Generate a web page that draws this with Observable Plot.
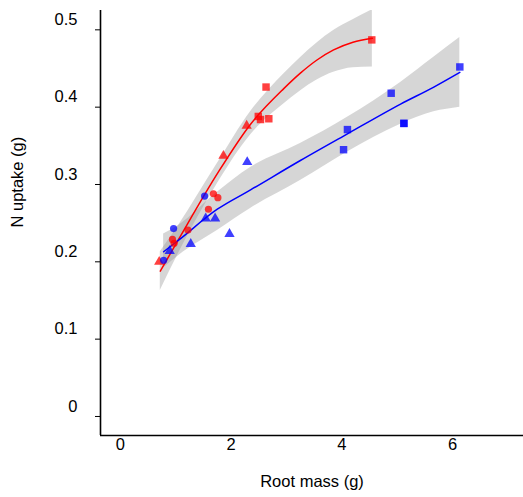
<!DOCTYPE html>
<html>
<head>
<meta charset="utf-8">
<script src="https://cdn.jsdelivr.net/npm/d3@7"></script>
<script src="https://cdn.jsdelivr.net/npm/@observablehq/plot@0.6"></script>
<style>
  html, body { margin: 0; padding: 0; background: white; }
</style>
</head>
<body>
<div id="chart"></div>
<script>
// ---- data ----
const xTicks = [0, 2, 4, 6];
const yTicks = [0, 0.1, 0.2, 0.3, 0.4, 0.5];
const xDomain = [-0.36, 7.28];
const yDomain = [-0.0246, 0.525];

// Group "red"
const redX     = [4.54, 2.63, 2.49, 2.53, 2.68, 2.28, 1.86, 0.70, 1.68, 1.76, 1.59, 1.22, 0.94, 0.97];
const redY     = [0.487, 0.426, 0.388, 0.384, 0.385, 0.376, 0.337, 0.200, 0.288, 0.283, 0.268, 0.241, 0.229, 0.224];
const redShape = ["square","square","square","square","square","triangle","triangle","triangle","circle","circle","circle","circle","circle","circle"];

// Group "blue"
const blueX     = [6.13, 4.89, 4.10, 4.03, 5.12, 5.12, 2.29, 1.54, 1.71, 1.97, 1.27, 0.89, 1.52, 0.96, 0.78];
const blueY     = [0.452, 0.418, 0.371, 0.345, 0.379, 0.379, 0.329, 0.256, 0.256, 0.236, 0.223, 0.214, 0.285, 0.243, 0.202];
const blueShape = ["square","square","square","square","square","square","triangle","triangle","triangle","triangle","triangle","triangle","circle","circle","circle"];

// Fitted curves and confidence bands
const redFitX  = [0.72, 1.05, 1.75, 2.35, 2.95, 3.25, 3.55, 3.85, 4.20, 4.55];
const redFit   = [0.188, 0.229, 0.314, 0.378, 0.424, 0.444, 0.461, 0.474, 0.484, 0.489];
const redLo    = [0.163, 0.211, 0.301, 0.364, 0.404, 0.421, 0.435, 0.445, 0.451, 0.452];
const redHi    = [0.213, 0.247, 0.327, 0.394, 0.443, 0.464, 0.483, 0.499, 0.513, 0.526];

const blueFitX = [0.78, 1.05, 1.75, 2.35, 3.25, 4.10, 5.06, 5.66, 6.13];
const blueFit  = [0.213, 0.228, 0.268, 0.293, 0.331, 0.3655, 0.404, 0.426, 0.445];
const blueLo   = [0.192, 0.208, 0.2405, 0.269, 0.305, 0.342, 0.378, 0.394, 0.400];
const blueHi   = [0.236, 0.247, 0.290, 0.322, 0.353, 0.387, 0.432, 0.4645, 0.490];

const redColor = "#ff0000";
const blueColor = "#0000ff";

// ---- tables built from the arrays ----
const pts = [
  ...redX.map((x, i) => ({x, y: redY[i], shape: redShape[i], g: "red"})),
  ...blueX.map((x, i) => ({x, y: blueY[i], shape: blueShape[i], g: "blue"}))
];
const fits = [
  ...redFitX.map((x, i) => ({x, y: redFit[i], lo: redLo[i], hi: redHi[i], g: "red"})),
  ...blueFitX.map((x, i) => ({x, y: blueFit[i], lo: blueLo[i], hi: blueHi[i], g: "blue"}))
];
const col = d => d.g === "red" ? redColor : blueColor;
const font = "'Liberation Sans', Arial, Helvetica, sans-serif";

const chart = Plot.plot({
  width: 523,
  height: 497,
  marginLeft: 100,
  marginRight: 0,
  marginTop: 10,
  marginBottom: 62,
  x: {domain: xDomain, axis: null},
  y: {domain: yDomain},
  style: {fontFamily: font, fontSize: "16.5px", color: "black", background: "white"},
  marks: [
    Plot.areaY(fits, {x: "x", y1: "lo", y2: "hi", z: "g", fill: "#999999", fillOpacity: 0.4, curve: "monotone-x", clip: true}),
    Plot.line(fits, {x: "x", y: "y", z: "g", stroke: col, strokeWidth: 1.5, curve: "monotone-x"}),
    Plot.dot(pts.filter(d => d.shape === "square"), {x: "x", y: "y", symbol: "square", r: 4.2, fill: col, fillOpacity: 0.75, stroke: "none"}),
    Plot.dot(pts.filter(d => d.shape === "triangle"), {x: "x", y: "y", symbol: "triangle", r: 3.8, fill: col, fillOpacity: 0.75, stroke: "none"}),
    Plot.dot(pts.filter(d => d.shape === "circle"), {x: "x", y: "y", symbol: "circle", r: 3.6, fill: col, fillOpacity: 0.75, stroke: "none"}),
    // y ticks (marks only) and tick labels
    Plot.axisY(yTicks, {tickSize: 5, tickFormat: () => "", label: null, stroke: "black"}),
    Plot.text(yTicks, {y: d => d, frameAnchor: "left", dx: -23, dy: -10, textAnchor: "end", text: d => String(d), fontSize: 16.5, fill: "black"}),
    // x tick labels
    Plot.text(xTicks, {x: d => d, frameAnchor: "bottom", dy: 14, text: d => String(d), fontSize: 16.5, fill: "black"}),
    Plot.ruleX([xDomain[0]], {stroke: "black", strokeWidth: 1.6}),
    Plot.ruleY([yDomain[0]], {stroke: "black", strokeWidth: 1.6}),
    Plot.text(["Root mass (g)"], {frameAnchor: "bottom", dy: 51, fontSize: 16.5, fill: "black"}),
    Plot.text(["N uptake (g)"], {frameAnchor: "left", dx: -83, dy: 4.5, rotate: -90, fontSize: 16.5, fill: "black"})
  ]
});
document.getElementById("chart").appendChild(chart);
</script>
</body>
</html>
